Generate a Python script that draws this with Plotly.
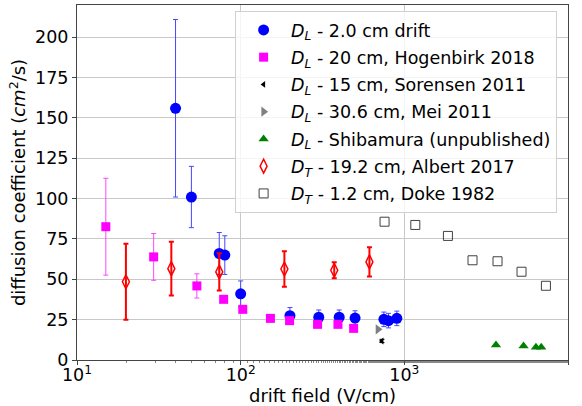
import plotly.graph_objects as go

# DL - 2.0 cm drift (this work)
dl2_x = [40, 50, 74, 80, 100, 200, 300, 400, 500, 750, 800, 900]
dl2_y = [156, 101, 66, 65, 41, 27.5, 26.5, 26.5, 26, 25.2, 24.4, 25.8]
dl2_e = [55, 19, 13, 12, 8, 5, 4.5, 4.5, 4.5, 4.5, 4.5, 4.5]

# DL - 20 cm, Hogenbirk 2018
hog_x = [15, 29.4, 54, 78.7, 103, 152, 199, 295, 393, 490]
hog_y = [82.6, 63.9, 45.9, 37.6, 31.4, 25.8, 24.4, 22.1, 22.1, 19.6]
hog_e = [30, 14.5, 7.5, 1.5, 1.5, 1.0, 1.0, 1.0, 1.0, 1.0]

# DL - 15 cm, Sorensen 2011
sor_x = [730]
sor_y = [11.8]
sor_e = [1.0]

# DL - 30.6 cm, Mei 2011
mei_x = [690]
mei_y = [19]

# DL - Shibamura (unpublished)
shi_x = [3630, 5350, 6370, 6860]
shi_y = [9.3, 8.7, 7.9, 7.9]

# DT - 19.2 cm, Albert 2017
alb_x = [19.9, 37.7, 74, 185, 373, 612]
alb_y = [48.5, 56.6, 54.6, 56.4, 55.6, 60.8]
alb_e = [23.5, 16.7, 11.5, 11, 5, 9]

# DT - 1.2 cm, Doke 1982
doke_x = [757, 1167, 1846, 2610, 3710, 5200, 7330]
doke_y = [85.7, 83.7, 76.9, 61.8, 61.2, 54.7, 46]

x_tickvals = [10, 100, 1000, 10000]
x_ticktext = ["10<sup>1</sup>", "10<sup>2</sup>", "10<sup>3</sup>", "10<sup>4</sup>"]
y_tickvals = [0, 25, 50, 75, 100, 125, 150, 175, 200]

DL = "<i>D</i><sub><i>L</i></sub>"
DT = "<i>D</i><sub><i>T</i></sub>"

fig = go.Figure()

fig.add_trace(go.Scatter(
    x=dl2_x, y=dl2_y, mode="markers", name=DL + " - 2.0 cm drift", legendgroup="a",
    marker=dict(symbol="circle", size=11, color="blue"),
    error_y=dict(type="data", array=dl2_e, color="rgb(70,70,255)", thickness=1, width=2.5),
))
fig.add_trace(go.Scatter(
    x=hog_x, y=hog_y, mode="markers", name=DL + " - 20 cm, Hogenbirk 2018", legendgroup="b",
    marker=dict(symbol="square", size=9, color="magenta"),
    error_y=dict(type="data", array=hog_e, color="rgb(255,70,255)", thickness=1, width=2.5),
))
fig.add_trace(go.Scatter(
    x=sor_x, y=sor_y, mode="markers", name=DL + " - 15 cm, Sorensen 2011", legendgroup="c",
    marker=dict(symbol="triangle-left", size=6, color="black"),
    error_y=dict(type="data", array=sor_e, color="black", thickness=1, width=2.5),
))
fig.add_trace(go.Scatter(
    x=mei_x, y=mei_y, mode="markers", name=DL + " - 30.6 cm, Mei 2011", legendgroup="d",
    marker=dict(symbol="triangle-right", size=9, color="gray"),
))
fig.add_trace(go.Scatter(
    x=shi_x, y=shi_y, mode="markers", name=DL + " - Shibamura (unpublished)", legendgroup="e",
    marker=dict(symbol="triangle-up", size=9, color="green"),
))
fig.add_trace(go.Scatter(
    x=alb_x, y=alb_y, mode="markers", name=DT + " - 19.2 cm, Albert 2017", legendgroup="f",
    marker=dict(symbol="diamond-tall-open", size=10, color="red", line=dict(width=1.5)),
    error_y=dict(type="data", array=alb_e, color="red", thickness=2, width=2.5),
))
fig.add_trace(go.Scatter(
    x=doke_x, y=doke_y, mode="markers", name=DT + " - 1.2 cm, Doke 1982", legendgroup="g",
    marker=dict(symbol="square-open", size=9, color="#404040", line=dict(width=1)),
))

FS = 17.5
TFS = 18
fig.update_layout(
    width=582, height=406,
    margin=dict(l=77, r=14, t=5, b=46),
    paper_bgcolor="white", plot_bgcolor="white",
    font=dict(family="DejaVu Sans", size=FS, color="black"),
    showlegend=True,
    legend=dict(
        x=0.322, y=0.983, xanchor="left", yanchor="top",
        bgcolor="rgba(255,255,255,0.8)", bordercolor="#d0d0d0", borderwidth=1,
        font=dict(size=FS), tracegroupgap=1.5, itemwidth=45,
    ),
)
fig.update_xaxes(
    type="log", range=[1, 4], automargin=False,
    tickvals=x_tickvals, ticktext=x_ticktext,
    showgrid=True, gridcolor="#c8c8c8", gridwidth=1,
    showline=True, linecolor="#444", linewidth=1, mirror=True,
    ticks="outside", ticklen=4, tickcolor="#444", ticklabelstandoff=-5,
    minor=dict(ticks="outside", ticklen=2, tickcolor="#888", showgrid=False),
    title=dict(text="drift field (V/cm)", standoff=7, font=dict(size=TFS)),
    zeroline=False,
)
fig.update_yaxes(
    range=[0, 220], tickvals=y_tickvals, automargin=False,
    showgrid=True, gridcolor="#c8c8c8", gridwidth=1,
    showline=True, linecolor="#444", linewidth=1, mirror=True,
    ticks="outside", ticklen=4, tickcolor="#444",
    title=dict(text="diffusion coefficient (<i>cm</i><sup>2</sup>/s)", standoff=4, font=dict(size=TFS)),
    zeroline=False,
)

fig.write_html("out.html", config={"displayModeBar": False},
               post_script="document.body.style.margin='0';")
